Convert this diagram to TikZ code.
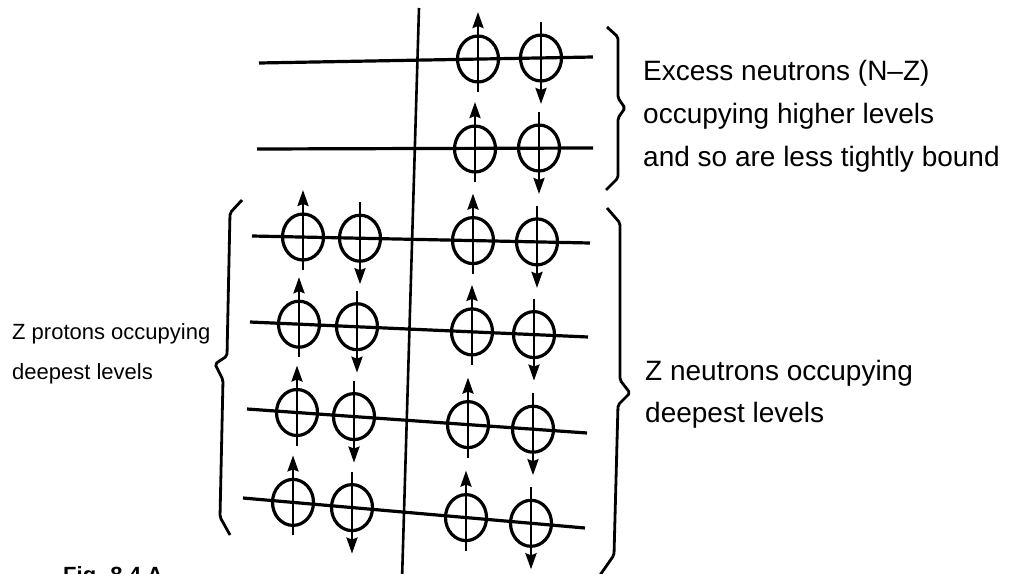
\documentclass[tikz,border=0pt]{standalone}
\usepackage{fontspec}
\setmainfont{Liberation Sans}
\usetikzlibrary{shapes.geometric,arrows.meta}
\begin{document}
\begin{tikzpicture}[x=1pt,y=-1pt,
  level/.style={line width=3.2pt},
  divider/.style={line width=2.6pt},
  spin/.style={draw,ellipse,minimum width=41pt,minimum height=46pt,inner sep=0pt,line width=3.2pt},
  arr/.style={line width=2.6pt,-{Stealth[length=16pt,width=11pt,inset=2pt]}},
  brace/.style={line width=2.8pt,rounded corners=2pt},
  lbl/.style={anchor=base west,inner sep=0pt,font=\fontsize{28}{34}\selectfont},
  lbls/.style={anchor=base west,inner sep=0pt,font=\fontsize{22}{26}\selectfont},
  figcaption/.style={anchor=base west,inner sep=0pt,font=\fontsize{22}{26}\selectfont\bfseries}]
\useasboundingbox (0,0) rectangle (1009,573);
\clip (0,0) rectangle (1009,573);
% vertical divider
\coordinate (vt) at (419,8);
\coordinate (vb) at (402,580);
\draw[divider] (vt) -- (vb);
% levels
\foreach \n/\xa/\ya/\xb/\yb in {1/259/63/593/57, 2/257/149/593/148, 3/252/236/590/243,
  4/250/322/588/337, 5/247/409/587/433, 6/243/498/585/528}{
  \coordinate (l\n a) at (\xa,\ya);
  \coordinate (l\n b) at (\xb,\yb);
  \draw[level] (l\n a) -- (l\n b);
}
% spin-up nucleons
\foreach \nm/\x/\y in {n1u/478/59, n2u/475/149, p3u/303/237, n3u/473/240.6,
  p4u/299/324.2, n4u/472/331.9, p5u/297/412.5, n5u/468/424.6, p6u/293/502.4, n6u/466/517.6}{
  \node[spin] (\nm) at (\x,\y) {};
  \draw[arr] ([yshift=-33pt]\nm.center) -- ([yshift=47pt]\nm.center);
}
% spin-down nucleons
\foreach \nm/\x/\y in {n1d/541/58, n2d/539/148, p3d/360/238.2, n3d/537/241.9,
  p4d/357/326.7, n4d/534/334.6, p5d/354/416.6, n5d/533/429.2, p6d/352/507.6, n6d/531/523.3}{
  \node[spin] (\nm) at (\x,\y) {};
  \draw[arr] ([yshift=36pt]\nm.center) -- ([yshift=-46pt]\nm.center);
}
% braces
\draw[brace] (607,27) -- (618,37) -- (618,98) -- (625,108) -- (618,118) -- (618,178) -- (606,190);
\draw[brace] (607,208) -- (620,223) -- (620,380) -- (630,393) -- (618,405) -- (614,555) -- (598,578);
\draw[brace] (242,200) -- (230,213) -- (227,356) -- (215,364) -- (223,380) -- (220,517) -- (230,535);
% labels
\node[lbl] (ex1) at (643,80) {Excess neutrons (N--Z)};
\node[lbl] (ex2) at (643,123) {occupying higher levels};
\node[lbl] (ex3) at (643,166) {and so are less tightly bound};
\node[lbl] (zn1) at (645,380) {Z neutrons occupying};
\node[lbl] (zn2) at (645,422) {deepest levels};
\node[lbls] (zp1) at (12,339) {Z protons occupying};
\node[lbls] (zp2) at (12,379) {deepest levels};
\node[figcaption] (fig) at (63,582) {Fig. 8.4 A};
\end{tikzpicture}
\end{document}
